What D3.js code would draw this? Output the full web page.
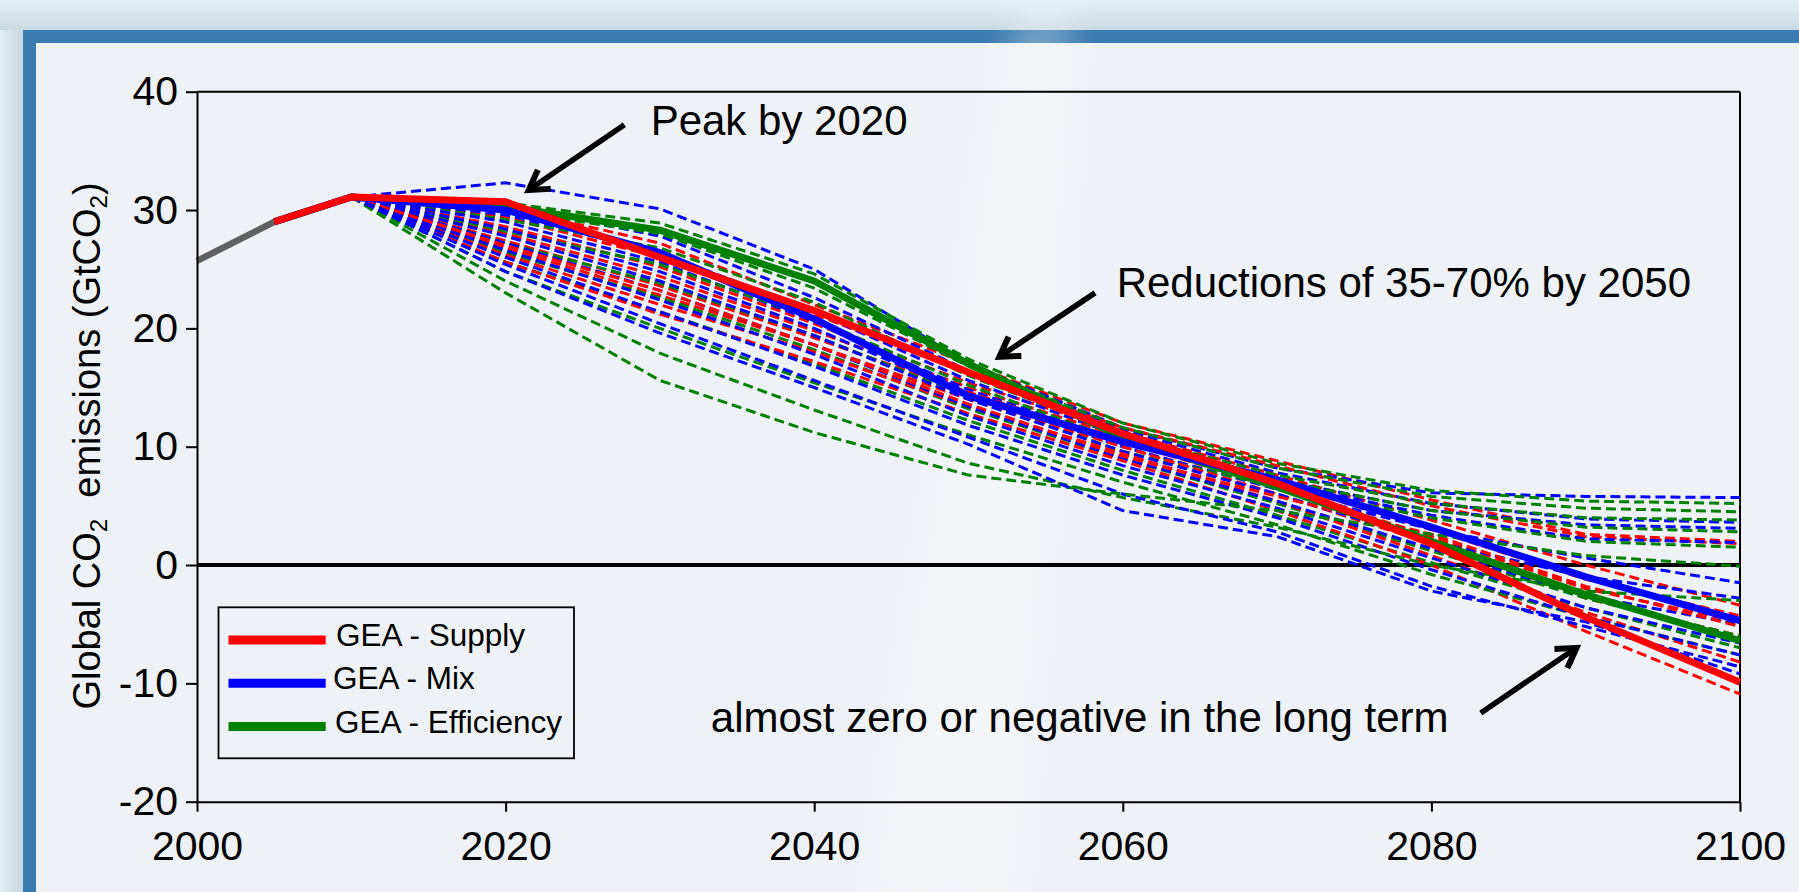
<!DOCTYPE html>
<html><head><meta charset="utf-8">
<script src="https://cdn.jsdelivr.net/npm/d3@7"></script>
<style>
html,body{margin:0;padding:0;background:#dcebf3;overflow:hidden}
text{font-family:"Liberation Sans",Arial,sans-serif;fill:#000}
</style>
</head><body>
<svg id="c" width="1799" height="892"></svg>
<script>
// ---------------- DATA ----------------
const years = [2010, 2020, 2030, 2040, 2050, 2060, 2070, 2080, 2090, 2100];
const pathYears = [2005, 2010, 2020, 2030, 2040, 2050, 2060, 2070, 2080, 2090, 2100];
const histYears = [2000, 2005];
const histValues = [25.7, 29.0];

const supplyValues     = [29.0, 31.1, 30.7, 26.0, 21.5, 16.3, 11.1, 6.9, 1.8, -4.4, -9.9];
const mixValues        = [29.0, 31.1, 30.0, 26.4, 20.8, 14.3, 10.4, 7.2, 3.2, -1.0, -4.7];
const efficiencyValues = [29.0, 31.1, 30.3, 28.3, 24.0, 17.0, 10.8, 6.6, 2.0, -2.5, -6.4];

const supplyScenarios = [
  [31.1, 30.2, 27.2, 22.0, 17.0, 12.0, 8.8, 5.5, 2.6, 2.0],
  [31.1, 29.4, 26.0, 21.2, 16.2, 11.6, 8.4, 5.0, 2.4, 1.8],
  [31.1, 28.6, 25.2, 20.4, 15.4, 11.2, 7.6, 3.8, 0.0, -3.4],
  [31.1, 28.0, 24.4, 19.8, 15.0, 10.8, 7.0, 3.0, -1.2, -4.3],
  [31.1, 27.4, 23.6, 19.2, 14.6, 10.4, 6.6, 2.4, -2.0, -4.8],
  [31.1, 26.8, 22.8, 18.6, 14.0, 10.0, 6.0, 1.8, -2.8, -6.0],
  [31.1, 26.2, 22.0, 18.0, 13.4, 9.4, 5.4, 0.8, -4.0, -8.2],
  [31.1, 25.6, 21.2, 17.2, 12.8, 8.8, 4.6, 0.0, -5.6, -10.9],
  [31.1, 27.0, 23.2, 18.6, 13.6, 9.2, 5.8, 2.6, -1.8, -5.2]
];
const mixScenarios = [
  [31.1, 32.3, 30.1, 25.0, 17.0, 11.6, 8.2, 6.1, 5.8, 5.7],
  [31.1, 30.4, 27.8, 22.6, 16.4, 11.4, 7.8, 5.2, 3.9, 3.6],
  [31.1, 29.6, 26.4, 21.4, 15.6, 10.8, 7.2, 4.6, 3.4, 3.1],
  [31.1, 29.0, 25.6, 20.6, 14.8, 10.4, 7.0, 4.2, 2.2, 1.9],
  [31.1, 28.4, 24.8, 20.0, 14.4, 10.0, 6.4, 3.0, 0.6, -1.5],
  [31.1, 27.8, 24.0, 19.4, 14.0, 9.6, 6.0, 2.0, -1.0, -2.8],
  [31.1, 27.2, 23.2, 18.6, 13.4, 9.0, 5.4, 1.4, -2.6, -5.0],
  [31.1, 26.6, 22.4, 17.8, 12.6, 8.4, 4.8, 0.6, -3.6, -6.6],
  [31.1, 26.0, 21.4, 16.8, 11.8, 7.6, 4.0, -0.4, -4.4, -7.6],
  [31.1, 25.4, 20.4, 15.6, 10.8, 6.0, 2.8, -1.8, -5.2, -8.6],
  [31.1, 24.8, 19.6, 15.0, 10.2, 4.6, 2.4, -2.2, -4.8, -9.2]
];
const efficiencyScenarios = [
  [31.1, 30.6, 28.9, 24.6, 17.4, 12.0, 8.6, 6.3, 5.4, 5.2],
  [31.1, 30.0, 28.0, 23.4, 16.8, 11.6, 8.2, 5.8, 4.8, 4.5],
  [31.1, 29.2, 26.8, 22.2, 16.0, 11.0, 7.6, 5.2, 4.0, 3.8],
  [31.1, 28.2, 25.4, 20.8, 15.2, 10.4, 7.2, 4.6, 3.2, 2.8],
  [31.1, 27.2, 23.8, 19.4, 14.2, 9.6, 6.6, 4.0, 2.0, 1.5],
  [31.1, 26.4, 22.6, 18.2, 13.2, 9.0, 5.2, 1.2, -2.8, -6.0],
  [31.1, 25.6, 21.4, 17.0, 12.2, 8.0, 4.2, 0.2, -3.6, -7.0],
  [31.1, 24.8, 20.0, 15.4, 11.0, 7.0, 3.4, -0.8, -4.4, -7.6],
  [31.1, 24.0, 17.9, 13.1, 8.6, 5.7, 3.2, 0.0, -2.2, -3.0],
  [31.1, 23.0, 15.6, 11.2, 7.6, 6.0, 4.6, 2.6, 0.8, -0.1]
];

const xTicks = [2000, 2020, 2040, 2060, 2080, 2100];
const yTicks = [-20, -10, 0, 10, 20, 30, 40];
const legendLabels = ["GEA - Supply", "GEA - Mix", "GEA - Efficiency"];
const seriesColors = ["#ff0000", "#0000ff", "#008000"];

const annotationTexts = ["Peak by 2020", "Reductions of 35-70% by 2050", "almost zero or negative in the long term"];
const annotationYears = [2029.4, 2059.6, 2033.3];
const annotationValues = [36.3, 22.67, -14.1];
const arrowFrom = [[2027.7, 37.2], [2058.2, 23.0], [2083.2, -12.5]];
const arrowTo   = [[2021.5, 31.7], [2052.0, 17.6], [2089.4, -7.0]];

// ---------------- DRAW ----------------
const svg = d3.select("#c");
const defs = svg.append("defs");
const bg = defs.append("linearGradient").attr("id","bgG").attr("x1",0).attr("y1",0).attr("x2",0).attr("y2",1);
bg.append("stop").attr("offset","0").attr("stop-color","#e3f0f7");
bg.append("stop").attr("offset","1").attr("stop-color","#c9d9e2");
const bgL = defs.append("linearGradient").attr("id","bgL").attr("x1",0).attr("y1",0).attr("x2",1).attr("y2",0);
bgL.append("stop").attr("offset","0").attr("stop-color","#e0eef5");
bgL.append("stop").attr("offset","1").attr("stop-color","#c6d6df");
defs.append("filter").attr("id","blur").attr("x","-50%").attr("width","200%")
  .append("feGaussianBlur").attr("stdDeviation",18);

svg.append("rect").attr("width",1799).attr("height",892).attr("fill","#dcebf3");
svg.append("rect").attr("x",0).attr("y",0).attr("width",1799).attr("height",30).attr("fill","url(#bgG)");
svg.append("rect").attr("x",0).attr("y",30).attr("width",23).attr("height",862).attr("fill","url(#bgL)");
// blue frame
svg.append("rect").attr("x",23).attr("y",30).attr("width",1776).attr("height",862).attr("fill","#3b7bb0");
svg.append("rect").attr("x",36).attr("y",43).attr("width",1763).attr("height",849).attr("fill","#eef2f6");
// soft light streak
svg.append("polygon").attr("points","1020,0 1070,0 1010,892 880,892")
  .attr("fill","#ffffff").attr("opacity",0.3).attr("filter","url(#blur)");

const x = d3.scaleLinear().domain([2000, 2100]).range([197, 1740]);
const y = d3.scaleLinear().domain([-20, 40]).range([801.7, 91.7]);

// frame (top & right)
const g = svg.append("g");
g.append("line").attr("x1",x(2000)).attr("x2",x(2100)).attr("y1",y(40)).attr("y2",y(40)).attr("stroke","#000").attr("stroke-width",2);
g.append("line").attr("x1",x(2100)).attr("x2",x(2100)).attr("y1",y(40)).attr("y2",y(-20)).attr("stroke","#000").attr("stroke-width",2);

// zero line
g.append("line").attr("x1",x(2000)).attr("x2",x(2100)).attr("y1",y(0)).attr("y2",y(0)).attr("stroke","#000").attr("stroke-width",4);

const lineYears = d3.line().x((d,i)=>x(years[i])).y(d=>y(d));
const linePath = d3.line().x((d,i)=>x(pathYears[i])).y(d=>y(d));
const lineHist = d3.line().x((d,i)=>x(histYears[i])).y(d=>y(d));

// dashed scenarios interleaved
const groups = [supplyScenarios, mixScenarios, efficiencyScenarios];
const maxN = d3.max(groups, gr=>gr.length);
const dashG = g.append("g").attr("fill","none").attr("stroke-width",3).attr("stroke-dasharray","10,5");
for (let i=0;i<maxN;i++){
  groups.forEach((gr,k)=>{
    if (i<gr.length) dashG.append("path").attr("d",lineYears(gr[i])).attr("stroke",seriesColors[k]);
  });
}

// thick illustrative pathways
g.append("path").attr("d",lineHist(histValues)).attr("fill","none").attr("stroke","#606060").attr("stroke-width",6.5);
[[efficiencyValues,2],[mixValues,1],[supplyValues,0]].forEach(([vals,k])=>{
  g.append("path").attr("d",linePath(vals)).attr("fill","none").attr("stroke",seriesColors[k])
    .attr("stroke-width",7).attr("stroke-linejoin","round");
});

// axes
const fmt = d => String(d).replace("\u2212","-");
const yAxis = d3.axisLeft(y).tickValues(yTicks).tickFormat(fmt).tickSize(11).tickSizeOuter(0).tickPadding(8);
const gy = svg.append("g").attr("transform",`translate(${x(2000)},0)`).call(yAxis);
const xAxis = d3.axisBottom(x).tickValues(xTicks).tickFormat(fmt).tickSize(10).tickSizeOuter(0).tickPadding(19);
const gx = svg.append("g").attr("transform",`translate(0,${y(-20)})`).call(xAxis);
[gx,gy].forEach(a=>{
  a.selectAll("path,line").attr("stroke","#000").attr("stroke-width",2);
  a.selectAll("text").attr("font-size",41).attr("font-family","'Liberation Sans',Arial,sans-serif").attr("fill","#000");
});

// y axis label
const yl = svg.append("text").attr("transform",`translate(100,446) rotate(-90)`)
  .attr("text-anchor","middle").attr("font-size",38).style("white-space","pre");
yl.append("tspan").text("Global CO");
yl.append("tspan").text("2").attr("font-size",24).attr("dy",7);
yl.append("tspan").text("  emissions (GtCO").attr("dy",-7);
yl.append("tspan").text("2").attr("font-size",24).attr("dy",7);
yl.append("tspan").text(")").attr("dy",-7);

// legend
const lg = svg.append("g");
lg.append("rect").attr("x",218.5).attr("y",607.3).attr("width",355.5).attr("height",151)
  .attr("fill","#eef2f6").attr("stroke","#000").attr("stroke-width",1.8);
legendLabels.forEach((lab,i)=>{
  const cy = 640 + i*43.3;
  lg.append("line").attr("x1",228.5).attr("x2",325.7).attr("y1",cy).attr("y2",cy)
    .attr("stroke",seriesColors[i]).attr("stroke-width",9);
  lg.append("text").attr("x",[336,333,335][i]).attr("y",cy+6).attr("font-size",31.5).text(lab);
});

// annotations
annotationTexts.forEach((t,i)=>{
  svg.append("text").attr("x",x(annotationYears[i])).attr("y",y(annotationValues[i]))
    .attr("font-size",42).text(t);
});
arrowFrom.forEach((f,i)=>{
  const x1=x(f[0]), y1=y(f[1]), x2=x(arrowTo[i][0]), y2=y(arrowTo[i][1]);
  const ang = Math.atan2(y2-y1, x2-x1);
  const L = 22, a = 0.55;
  const p1 = [x2 - L*Math.cos(ang-a), y2 - L*Math.sin(ang-a)];
  const p2 = [x2 - L*Math.cos(ang+a), y2 - L*Math.sin(ang+a)];
  svg.append("line").attr("x1",x1).attr("y1",y1).attr("x2",x2-3*Math.cos(ang)).attr("y2",y2-3*Math.sin(ang))
    .attr("stroke","#000").attr("stroke-width",5.5);
  svg.append("path").attr("d",`M${p1[0]},${p1[1]}L${x2},${y2}L${p2[0]},${p2[1]}`)
    .attr("fill","none").attr("stroke","#000").attr("stroke-width",6).attr("stroke-linejoin","miter");
});
</script>
</body></html>
